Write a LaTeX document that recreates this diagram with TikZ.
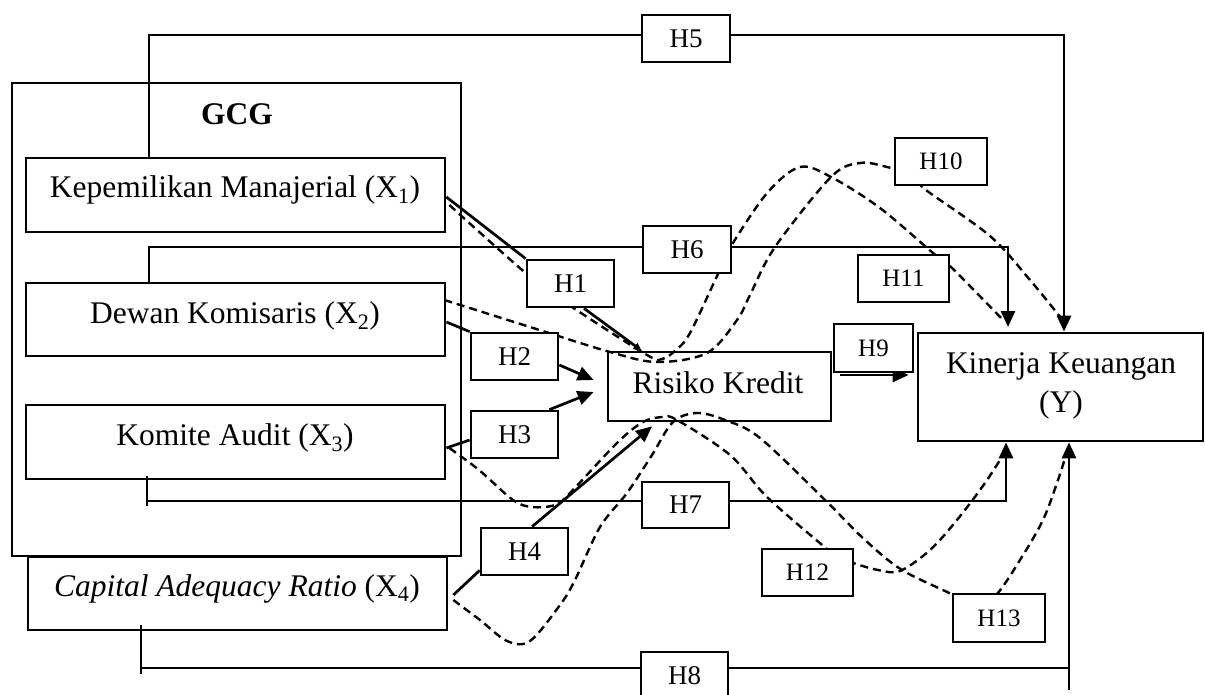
\documentclass[tikz,border=0pt]{standalone}
\usepackage{fontspec}
\setmainfont{Liberation Serif}
\usetikzlibrary{arrows.meta,calc}
\pgfdeclarelayer{bg}
\pgfsetlayers{bg,main}
\tikzset{
  box/.style={draw, line width=2.7pt, inner sep=0pt},
  hbox/.style={box, fill=white, minimum width=87pt, minimum height=47pt, font=\fontsize{27}{32}\selectfont},
  hsmall/.style={hbox, font=\fontsize{25}{30}\selectfont},
  conn/.style={line width=2.7pt},
  dconn/.style={line width=2.4pt, dash pattern=on 8pt off 5pt},
  arr/.style={conn, -{Triangle[length=16pt,width=14pt]}},
  txt/.style={anchor=base, inner sep=0pt, font=\fontsize{31.5}{38}\selectfont},
}
\begin{document}
\begin{tikzpicture}[x=1pt,y=-1pt]
\useasboundingbox (0,0) rectangle (1205,695);
% main boxes
\node[box, minimum width=449pt, minimum height=473pt] (gcg) at (236.5,319.5) {};
\node[txt, font=\fontsize{31.5}{38}\selectfont\bfseries] (gcgt) at (237,125) {GCG};
\node[box, minimum width=419pt, minimum height=74pt] (x1) at (235.5,195) {};
\node[txt] (x1t) at (235,198) {Kepemilikan Manajerial (X\textsubscript{1})};
\node[box, minimum width=419pt, minimum height=73pt] (x2) at (235.5,319.5) {};
\node[txt] (x2t) at (235,323) {Dewan Komisaris (X\textsubscript{2})};
\node[box, minimum width=419pt, minimum height=74pt] (x3) at (235.5,442) {};
\node[txt] (x3t) at (235,445) {Komite Audit (X\textsubscript{3})};
\node[box, minimum width=419pt, minimum height=73pt] (x4) at (237.5,593.5) {};
\node[txt] (x4t) at (237,596) {\textit{Capital Adequacy Ratio} (X\textsubscript{4})};
\node[box, minimum width=223pt, minimum height=69pt] (rk) at (719.5,386.5) {};
\node[txt] (rkt) at (718,393) {Risiko Kredit};
\node[box, minimum width=285pt, minimum height=108pt] (ky) at (1060.5,387) {};
\node[txt] (kyt1) at (1061,373) {Kinerja Keuangan};
\node[txt] (kyt2) at (1061,412) {(Y)};
% hypothesis boxes
\node[hbox] (h1) at (570.5,283.5) {H1};
\node[hbox] (h2) at (514.5,356.5) {H2};
\node[hbox] (h3) at (514.5,434.5) {H3};
\node[hbox] (h4) at (524.5,551.5) {H4};
\node[hbox, minimum width=88pt] (h5) at (686,38.5) {H5};
\node[hbox, minimum width=88pt] (h6) at (687,249.5) {H6};
\node[hbox, minimum height=46pt] (h7) at (685.5,505) {H7};
\node[hbox] (h8) at (684.5,675.5) {H8};
\node[hsmall, minimum width=79pt, minimum height=48pt] (h9) at (873.5,348) {H9};
\node[hsmall, minimum width=92pt] (h10) at (941,161.5) {H10};
\node[hsmall, minimum width=91pt] (h11) at (903.5,278.5) {H11};
\node[hsmall, minimum width=91pt] (h12) at (807.5,572.5) {H12};
\node[hsmall, minimum width=92pt, minimum height=48pt] (h13) at (999,618) {H13};
% helper coordinates
\coordinate (c5a) at (149,35);
\coordinate (c5b) at (1064,35);
\coordinate (c6a) at (149,247);
\coordinate (c6b) at (1008,247);
\coordinate (c6t) at (1008,327);
\coordinate (c7a) at (147,501);
\coordinate (c7b) at (1006,501);
\coordinate (c8a) at (141,668);
\coordinate (c8b) at (1069,668);
\path (x3.south -| c7a) coordinate (t7);
\path (x4.south -| c8a) coordinate (t8);
\path ([xshift=8pt,yshift=11.5pt]rk.east) coordinate (s9);
\path (ky.west |- s9) coordinate (e9);
\path ([xshift=3pt,yshift=-10pt]x1.east) coordinate (d1s);
\path ([xshift=-2pt,yshift=19.5pt]x2.east) coordinate (d2s);
\path ([xshift=3pt,yshift=-6pt]x3.east) coordinate (d3s);
\path ([xshift=5pt,yshift=-6.5pt]x4.east) coordinate (d4s);
\begin{pgfonlayer}{bg}
% direct paths
\draw[arr] (x1.north -| c5a) -- (c5a) -- (c5b) -- (ky.north -| c5b);
\draw[arr] (x2.north -| c6a) -- (c6a) -- (c6b) -- (c6t);
\draw[conn] ([yshift=4pt]t7) -- ([yshift=-26pt]t7);
\draw[arr] (c7a) -- (c7b) -- (ky.south -| c7b);
\draw[conn] ([yshift=6pt]t8) -- ([yshift=-43pt]t8);
\draw[conn] (c8a) -- (c8b);
\draw[arr] ([yshift=-22pt]c8b) -- (ky.south -| c8b);
\draw[arr] (s9) -- ([xshift=-8pt]e9);
\draw[conn] ([yshift=-2pt]x1.east) -- (h1.north west);
\draw[conn, -{Triangle[length=8pt,width=7pt]}] ([xshift=13.5pt]h1.south) -- ([xshift=35pt]rk.north west);
\draw[conn] ([yshift=-2.5pt]x2.east) -- (h2.north west);
\draw[arr] ([yshift=-8.5pt]h2.east) -- ([xshift=-13pt,yshift=6.5pt]rk.west);
\draw[conn] ([yshift=-6pt]x3.east) -- ([yshift=-5.5pt]h3.west);
\draw[arr] ([xshift=-10pt]h3.north east) -- ([xshift=-13pt,yshift=-5.5pt]rk.west);
\draw[conn] ([xshift=5pt,yshift=-1.5pt]x4.east) -- ([yshift=6pt]h4.south west);
\draw[arr] ([xshift=7.5pt]h4.north) -- ([xshift=-67.5pt,yshift=-4pt]rk.south);
% mediated (dashed) paths
\draw[dconn] plot[smooth, tension=0.55] coordinates {(d1s) (528,275) (572,307) (647,355) (662,359) (676,350) (690,333) (718,274) (733,243) (768,192) (800,167) (831,177) (880,208) (933,253) (951,267) (1003,320)};
\draw[dconn] plot[smooth, tension=0.55] coordinates {(d2s) (530,327) (610,352) (657,362) (707,353) (737,320) (750,295) (775,247) (831,177) (860,163) (887,167) (912,175) (926,190) (990,236) (1030,280) (1061,318)};
\draw[dconn] plot[smooth, tension=0.55] coordinates {(d3s) (479,470) (513,500) (532,507) (555,505) (570,493) (617,443) (643,422) (663,417) (677,420) (730,455) (767,497) (827,549) (840,558) (853,563) (878,570) (900,571) (930,550) (957,520) (985,483) (1005,452)};
\draw[dconn] plot[smooth, tension=0.55] coordinates {(d4s) (480,620) (507,641) (530,641) (560,605) (575,580) (600,527) (627,493) (652,455) (673,422) (697,413) (725,420) (760,438) (825,500) (865,540) (902,570) (953,595) (975,610) (997,594) (1020,560) (1043,520) (1058,480) (1066,455)};
\end{pgfonlayer}
\end{tikzpicture}
\end{document}
